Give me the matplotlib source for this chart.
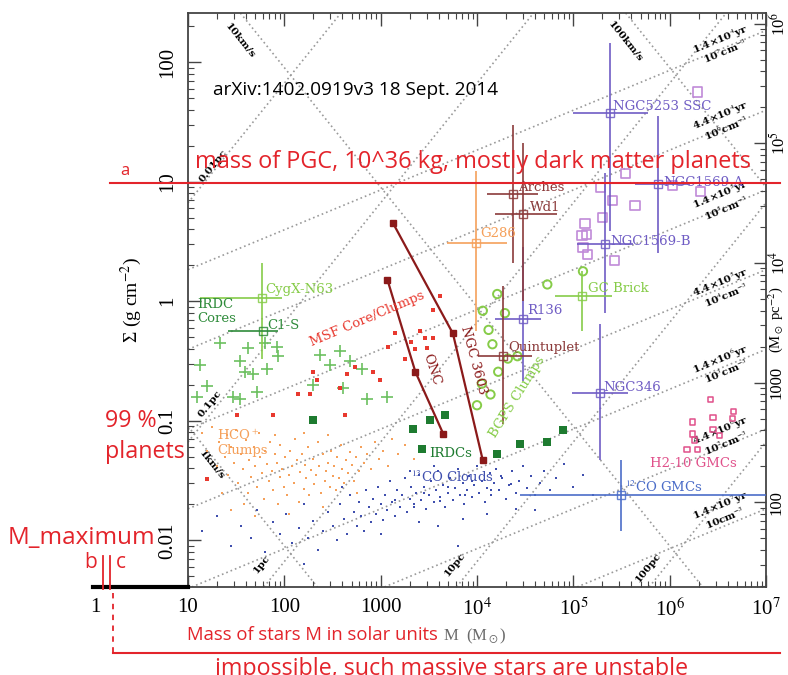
import numpy as np
import matplotlib
matplotlib.use('Agg')
import matplotlib.pyplot as plt
from matplotlib.lines import Line2D
from matplotlib.ticker import FixedLocator, LogLocator, NullFormatter

plt.rcParams['mathtext.fontset'] = 'stix'

# values: log10 M (Msun), log10 Sigma (g cm^-2)
hco_logM = [1.15, 1.20, 1.25, 1.30, 1.32, 1.38, 1.40, 1.42, 1.45, 1.48,
            1.50, 1.52, 1.55, 1.57, 1.60, 1.62, 1.63, 1.65, 1.68, 1.70,
            1.72, 1.74, 1.75, 1.77, 1.79, 1.80, 1.82, 1.84, 1.85, 1.87,
            1.88, 1.90, 1.92, 1.93, 1.95, 1.96, 1.98, 2.00, 2.01, 2.03,
            2.05, 2.06, 2.08, 2.10, 2.11, 2.13, 2.15, 2.16, 2.18, 2.20,
            2.21, 2.23, 2.25, 2.26, 2.28, 2.30, 2.31, 2.33, 2.35, 2.36,
            2.38, 2.40, 2.42, 2.43, 2.45, 2.47, 2.48, 2.50, 2.52, 2.54,
            2.55, 2.57, 2.59, 2.60, 2.62, 2.64, 2.66, 2.68, 2.70, 2.72,
            2.74, 2.77, 2.80, 2.83, 2.86, 2.90, 2.94, 2.98, 3.02, 3.08,
            3.12, 3.18, 3.25, 3.35, 1.45, 1.70, 2.05, 2.40, 1.90, 2.20,
            2.45, 1.35, 1.58, 2.75]
hco_logS = [-1.10, -1.25, -1.05, -1.38, -1.18, -1.30, -1.12, -1.45, -1.22, -1.35,
            -1.08, -1.52, -1.28, -1.40, -1.16, -1.60, -1.33, -1.47, -1.22, -1.38,
            -1.55, -1.10, -1.30, -1.44, -1.65, -1.25, -1.36, -1.50, -1.18, -1.42,
            -1.58, -1.28, -1.35, -1.70, -1.47, -1.20, -1.40, -1.55, -1.30, -1.62,
            -1.45, -1.25, -1.38, -1.52, -1.15, -1.33, -1.68, -1.43, -1.28, -1.57,
            -1.37, -1.48, -1.22, -1.62, -1.41, -1.32, -1.53, -1.45, -1.18, -1.38,
            -1.60, -1.28, -1.50, -1.42, -1.35, -1.55, -1.25, -1.46, -1.38, -1.58,
            -1.30, -1.48, -1.20, -1.40, -1.52, -1.33, -1.44, -1.26, -1.37, -1.50,
            -1.30, -1.42, -1.22, -1.35, -1.28, -1.40, -1.18, -1.32, -1.25, -1.38,
            -1.15, -1.28, -1.20, -1.32, -1.75, -1.80, -1.78, -1.72, -1.12, -1.10,
            -1.12, -1.60, -1.70, -1.60]

co_logM = [1.15, 1.30, 1.45, 1.55, 1.65, 1.72, 1.80, 1.88, 1.95, 2.02,
           2.08, 2.15, 2.20, 2.25, 2.30, 2.35, 2.40, 2.45, 2.50, 2.55,
           2.58, 2.62, 2.65, 2.68, 2.72, 2.75, 2.78, 2.80, 2.83, 2.85,
           2.88, 2.90, 2.92, 2.95, 2.97, 3.00, 3.02, 3.05, 3.07, 3.10,
           3.12, 3.15, 3.17, 3.20, 3.22, 3.25, 3.27, 3.30, 3.32, 3.35,
           3.37, 3.40, 3.42, 3.45, 3.47, 3.50, 3.52, 3.55, 3.57, 3.60,
           3.62, 3.65, 3.67, 3.70, 3.72, 3.75, 3.77, 3.80, 3.82, 3.85,
           3.87, 3.90, 3.92, 3.95, 3.97, 4.00, 4.02, 4.05, 4.08, 4.10,
           4.13, 4.15, 4.18, 4.20, 4.23, 4.26, 4.30, 4.33, 4.36, 4.40,
           4.44, 4.48, 4.52, 4.56, 4.60, 4.65, 4.70, 4.76, 4.82, 4.90,
           5.00, 5.10, 5.20, 3.40, 3.60, 3.85, 2.60, 3.00, 4.10, 4.40,
           2.20, 3.80, 4.60, 3.30, 3.55, 3.15, 3.45, 3.70, 3.95, 4.25,
           3.35, 3.62, 3.88, 4.15, 4.35]
co_logS = [-1.92, -1.80, -2.05, -1.88, -1.98, -1.75, -2.10, -1.85, -1.95, -1.78,
           -2.02, -1.90, -1.70, -1.98, -1.84, -2.08, -1.92, -1.76, -1.88, -2.00,
           -1.70, -1.82, -1.95, -1.62, -1.76, -1.88, -1.68, -1.80, -1.92, -1.58,
           -1.72, -1.85, -1.65, -1.78, -1.55, -1.70, -1.83, -1.62, -1.75, -1.50,
           -1.68, -1.80, -1.58, -1.72, -1.62, -1.48, -1.76, -1.65, -1.55, -1.70,
           -1.60, -1.45, -1.66, -1.55, -1.74, -1.62, -1.50, -1.68, -1.58, -1.42,
           -1.64, -1.54, -1.72, -1.60, -1.48, -1.66, -1.56, -1.40, -1.62, -1.52,
           -1.70, -1.58, -1.46, -1.64, -1.54, -1.38, -1.60, -1.50, -1.68, -1.56,
           -1.44, -1.62, -1.52, -1.40, -1.58, -1.48, -1.65, -1.54, -1.42, -1.60,
           -1.50, -1.38, -1.56, -1.46, -1.62, -1.52, -1.42, -1.58, -1.48, -1.36,
           -1.55, -1.45, -1.62, -1.85, -1.88, -1.82, -1.55, -1.95, -1.78, -1.74,
           -2.20, -2.05, -1.75, -1.42, -1.38, -1.66, -1.60, -1.55, -1.50, -1.46,
           -1.72, -1.67, -1.62, -1.58, -1.53]

core_logM = [1.33, 1.12, 1.62, 1.80, 1.92, 1.93, 1.54, 1.67, 1.59, 1.82, 1.20, 1.47,
             1.72, 1.09, 1.54, 2.37, 2.47, 2.58, 2.68, 2.81, 2.86, 3.07, 2.30, 2.61]
core_logS = [-0.35, -0.53, -0.39, -0.35, -0.38, -0.46, -0.50, -0.61, -0.59, -0.57, -0.71, -0.80,
             -0.76, -0.80, -0.82, -0.45, -0.53, -0.42, -0.50, -0.57, -0.82, -0.80, -0.70, -0.73]

msf_logM = [2.30, 2.34, 2.14, 2.27, 2.58, 2.65, 2.73, 2.92, 3.08, 2.63, 1.88, 1.51,
            1.20, 3.31, 3.46, 3.54, 3.48, 3.36, 3.54, 3.25, 3.41, 2.99, 3.15, 3.62]
msf_logS = [-0.59, -0.66, -0.78, -0.78, -0.73, -0.61, -0.55, -0.59, -0.38, -0.95, -0.95, -0.95,
            -1.49, -0.34, -0.31, -0.31, -0.39, -0.40, -0.07, -0.48, -0.25, -0.66, -0.27, 0.04]

irdc_logM = [2.30, 3.34, 3.51, 3.67, 3.43, 4.21, 4.45, 4.73, 4.89]
irdc_logS = [-0.99, -1.07, -0.99, -0.95, -1.24, -1.28, -1.19, -1.18, -1.08]

bgps_logM = [4.06, 4.21, 4.29, 4.12, 4.16, 4.32, 4.42, 4.22, 4.05, 4.14, 4.00, 4.73, 5.10]
bgps_logS = [-0.08, 0.06, -0.10, -0.24, -0.36, -0.48, -0.46, -0.59, -0.69, -0.78, -0.87, 0.14, 0.25]

h2_logM = [6.42, 6.24, 6.45, 6.66, 6.65, 6.45, 6.24, 6.26, 6.18, 6.29, 6.52]
h2_logS = [-0.82, -1.01, -0.97, -0.92, -0.98, -1.07, -1.11, -1.16, -1.24, -1.24, -1.12]

ssc_logM = [6.29, 5.54, 5.28, 5.41, 5.64, 6.32, 6.03, 5.12, 5.30, 5.14, 5.10, 5.15, 5.43, 5.09]
ssc_logS = [1.75, 1.07, 0.95, 0.84, 0.80, 0.92, 0.97, 0.65, 0.70, 0.56, 0.45, 0.39, 0.34, 0.55]

onc_logM = [3.07, 3.36, 3.65]
onc_logS = [0.18, -0.59, -1.11]
n3603_logM = [3.13, 3.75, 4.06]
n3603_logS = [0.65, -0.27, -1.33]

obj_names = ["NGC5253 SSC", "NGC1569-A", "NGC1569-B", "R136", "NGC346", "Arches", "Wd1",
             "Quintuplet", "G286", "GC Brick", "CygX-N63", "C1-S", "$^{12}$CO GMCs"]
obj_logM = [5.38, 5.88, 5.33, 4.48, 5.28, 4.37, 4.48, 4.27, 3.99, 5.09, 1.77, 1.78, 5.49]
obj_logM_lo = [5.00, 5.64, 5.04, 4.19, 4.99, 4.10, 4.19, 4.01, 3.69, 4.81, 1.12, 1.42, 4.45]
obj_logM_hi = [5.77, 6.21, 5.62, 4.66, 5.57, 4.63, 4.83, 4.57, 4.31, 5.40, 1.98, 1.93, 7.00]
obj_logS = [1.57, 0.98, 0.48, -0.15, -0.77, 0.90, 0.73, -0.46, 0.49, 0.04, 0.03, -0.25, -1.62]
obj_logS_lo = [0.59, 0.40, -0.10, -0.67, -1.33, 0.32, 0.00, -1.03, -0.25, -0.25, -0.48, -0.25, -1.92]
obj_logS_hi = [2.16, 1.55, 1.07, 0.45, -0.19, 1.47, 1.32, 0.13, 1.09, 0.25, 0.32, -0.25, -1.33]

x_ticks = [1e1, 1e2, 1e3, 1e4, 1e5, 1e6, 1e7]
x_labels = ['10', '100', '1000', '10$^4$', '10$^5$', '10$^6$', '10$^7$']
y_ticks = [0.01, 0.1, 1, 10, 100]
y_labels = ['0.01', '0.1', '1', '10', '100']
r_ticks = [1e2, 1e3, 1e4, 1e5, 1e6]
r_labels = ['100', '1000', '10$^4$', '10$^5$', '10$^6$']

# colours
RED = '#e3242b'
PURPLE = '#6f5cc4'
BROWN = '#8b3a3a'
DRED = '#8b1a1a'
ORANGE = '#f5a05a'
LGREEN = '#86cc48'
DGREEN = '#2e8b3a'
BLUE = '#3f4fae'
BLUE2 = '#4a6cc8'
PINK = '#e0508a'
obj_colors = [PURPLE, PURPLE, PURPLE, PURPLE, PURPLE, BROWN, BROWN, BROWN,
              ORANGE, LGREEN, LGREEN, DGREEN, BLUE2]

W, H = 788, 675
def fx(x):
    return x / W
def fy(y):
    return 1 - y / H

fig = plt.figure(figsize=(W / 100, H / 100), dpi=100)
ax = fig.add_axes([fx(188), fy(587), 578 / W, 574 / H])
ax.set_xscale('log')
ax.set_yscale('log')
ax.set_xlim(10, 1e7)
ax.set_ylim(10 ** -2.39, 10 ** 2.41)
xpd = 578 / 6
ypd = 574 / 4.8
def ang(slope):
    return np.degrees(np.arctan(slope * ypd / xpd))

# guide lines: constant radius, escape speed and density
G, MSUN, PC, MH = 6.674e-8, 1.989e33, 3.086e18, 1.674e-24
def sig_R(M, R):
    return M * MSUN / (np.pi * (R * PC) ** 2)
def sig_v(M, v):
    return (v * 1e5) ** 4 / (4 * np.pi * G ** 2 * M * MSUN)
def sig_n(M, n):
    rho = 1.4 * MH * n
    return 4 / 3 * rho * (3 * M * MSUN / (4 * np.pi * rho)) ** (1 / 3)

guide = dict(color='#9a9a9a', ls=(0, (1, 1.8)), lw=1.2, zorder=1)
for R in [0.01, 0.1, 1, 10, 100]:
    ax.axline((1, sig_R(1, R)), (1e8, sig_R(1e8, R)), **guide)
for v in [1, 10, 100]:
    ax.axline((1, sig_v(1, v)), (1e8, sig_v(1e8, v)), **guide)
for n in [10, 1e2, 1e3, 1e4, 1e5, 1e6, 1e7]:
    ax.axline((1, sig_n(1, n)), (1e8, sig_n(1e8, n)), **guide)

gl = dict(fontsize=7.5, family='DejaVu Serif', weight='bold', ha='center', va='center', zorder=2)
for s, lm, ls in [("0.01pc", 1.26, 1.13), ("0.1pc", 1.23, -0.86), ("1pc", 1.77, -2.20),
                  ("10pc", 3.77, -2.20), ("100pc", 5.78, -2.23)]:
    ax.text(10 ** lm, 10 ** ls, s, rotation=ang(1), **gl)
for s, lm, ls in [("1km/s", 1.25, -1.37), ("10km/s", 1.54, 2.18), ("100km/s", 5.54, 2.17)]:
    ax.text(10 ** lm, 10 ** ls, s, rotation=ang(-1), **gl)
n_text = ["1.4\u00d710$^4$yr\n10$^7$cm$^{-3}$", "4.4\u00d710$^4$yr\n10$^6$cm$^{-3}$",
          "1.4\u00d710$^5$yr\n10$^5$cm$^{-3}$", "4.4\u00d710$^5$yr\n10$^4$cm$^{-3}$",
          "1.4\u00d710$^6$yr\n10$^3$cm$^{-3}$", "4.4\u00d710$^6$yr\n10$^2$cm$^{-3}$",
          "1.4\u00d710$^7$yr\n10cm$^{-3}$"]
for s, ls in zip(n_text, [2.14, 1.50, 0.84, 0.11, -0.53, -1.13, -1.76]):
    ax.text(10 ** 6.55, 10 ** ls, s, rotation=ang(1 / 3), linespacing=0.9, **gl)

# data
def p(a):
    return 10 ** np.array(a)

ax.scatter(p(hco_logM), p(hco_logS), s=3.5, marker='s', c=ORANGE, linewidths=0, zorder=3)
ax.scatter(p(co_logM), p(co_logS), s=3.5, marker='s', c=BLUE, linewidths=0, zorder=3)
ax.scatter(p(core_logM), p(core_logS), s=80, marker='+', c='#6cc060', linewidths=1.2, zorder=3)
ax.scatter(p(msf_logM), p(msf_logS), s=12, marker='s', c='#e8392f', linewidths=0, zorder=4)
ax.scatter(p(irdc_logM), p(irdc_logS), s=36, marker='s', c='#1e7b30', linewidths=0, zorder=4)
ax.scatter(p(bgps_logM), p(bgps_logS), s=36, marker='o', facecolors='none',
           edgecolors=LGREEN, linewidths=1.4, zorder=4)
ax.scatter(p(h2_logM), p(h2_logS), s=14, marker='s', facecolors='none',
           edgecolors=PINK, linewidths=1.1, zorder=4)
ax.scatter(p(ssc_logM), p(ssc_logS), s=45, marker='s', facecolors='none',
           edgecolors='#c08ad8', linewidths=1.2, zorder=4)
ax.plot(p(onc_logM), p(onc_logS), color=DRED, lw=1.6, marker='s', ms=5, zorder=5)
ax.plot(p(n3603_logM), p(n3603_logS), color=DRED, lw=1.6, marker='s', ms=4, zorder=5)

for i in range(len(obj_names)):
    m, s = 10 ** obj_logM[i], 10 ** obj_logS[i]
    xe = [[m - 10 ** obj_logM_lo[i]], [10 ** obj_logM_hi[i] - m]]
    ye = [[s - 10 ** obj_logS_lo[i]], [10 ** obj_logS_hi[i] - s]]
    ax.errorbar([m], [s], xerr=xe, yerr=ye, fmt='s', ms=6, mfc='none', mec=obj_colors[i],
                ecolor=obj_colors[i], elinewidth=1.4, capsize=0, alpha=0.85, zorder=5)

# labels
lab = dict(family='DejaVu Serif', fontsize=9.5, va='center', zorder=6)
for s, lm, ls, c in [("IRDC\nCores", 1.10, -0.09, DGREEN), ("CygX-N63", 1.80, 0.10, LGREEN),
                     ("C1-S", 1.82, -0.20, DGREEN), ("HCO$^+$\nClumps", 1.30, -1.18, ORANGE),
                     ("IRDCs", 3.50, -1.27, '#1e7b30'), ("$^{13}$CO Clouds", 3.31, -1.47, BLUE),
                     ("Quintuplet", 4.32, -0.39, BROWN), ("R136", 4.52, -0.08, PURPLE),
                     ("GC Brick", 5.15, 0.11, LGREEN), ("NGC1569-B", 5.38, 0.50, PURPLE),
                     ("NGC5253 SSC", 5.41, 1.63, PURPLE), ("NGC1569-A", 5.93, 0.99, PURPLE),
                     ("Arches", 4.43, 0.95, BROWN), ("Wd1", 4.55, 0.78, BROWN),
                     ("G286", 4.03, 0.57, ORANGE), ("NGC346", 5.31, -0.72, PURPLE),
                     ("H2-10 GMCs", 5.80, -1.36, PINK), ("$^{12}$CO GMCs", 5.54, -1.56, BLUE2)]:
    ax.text(10 ** lm, 10 ** ls, s, color=c, ha='left', linespacing=1.1, **lab)
for s, lm, ls, c, r in [("MSF Core/Clumps", 2.86, -0.15, '#e8392f', 23),
                        ("ONC", 3.53, -0.57, DRED, -72), ("NGC 3603", 3.96, -0.49, DRED, -75),
                        ("BGPS Clumps", 4.42, -0.80, LGREEN, 58)]:
    ax.text(10 ** lm, 10 ** ls, s, color=c, ha='center', rotation=r, **lab)

# axes styling
for sp in ax.spines.values():
    sp.set_color('#444444')
    sp.set_linewidth(1.3)
ax.xaxis.set_major_locator(FixedLocator(x_ticks))
ax.xaxis.set_minor_locator(LogLocator(base=10, subs=np.arange(2, 10)))
ax.xaxis.set_minor_formatter(NullFormatter())
ax.set_xticklabels(x_labels, fontsize=15, family='Liberation Serif')
ax.yaxis.set_major_locator(FixedLocator(y_ticks))
ax.yaxis.set_minor_locator(LogLocator(base=10, subs=np.arange(2, 10)))
ax.yaxis.set_minor_formatter(NullFormatter())
ax.set_yticklabels(y_labels, fontsize=15, family='Liberation Serif', rotation=90, va='center')
ax.tick_params(which='both', direction='in', top=True, right=False, color='#444444')
ax.tick_params(which='major', length=9, width=1, pad=8)
ax.tick_params(which='minor', length=4.5, width=0.8)
ax.set_ylabel('\u03a3 (g cm$^{-2}$)', fontsize=14, family='Liberation Serif', labelpad=10)

ax2 = ax.twinx()
ax2.set_yscale('log')
ax2.set_ylim(10 ** -2.39 * 4790, 10 ** 2.41 * 4790)
ax2.yaxis.set_major_locator(FixedLocator(r_ticks))
ax2.yaxis.set_minor_locator(LogLocator(base=10, subs=np.arange(2, 10)))
ax2.yaxis.set_minor_formatter(NullFormatter())
ax2.set_yticklabels(r_labels, fontsize=12, family='Liberation Serif', rotation=90, va='center')
ax2.tick_params(which='both', direction='in', color='#444444')
ax2.tick_params(which='major', length=9, width=1, pad=2)
ax2.tick_params(which='minor', length=4.5, width=0.8)
for sp in ax2.spines.values():
    sp.set_visible(False)
fig.text(fx(776), fy(320), '(M$_\\odot$ pc$^{-2}$)', fontsize=10.5, family='Liberation Serif',
         rotation=90, ha='center', va='center')

# annotations drawn on top of the scanned chart
fig.add_artist(Line2D([fx(110), fx(780)], [fy(183), fy(183)], color=RED, lw=1.5))
fig.add_artist(Line2D([fx(93), fx(188)], [fy(587), fy(587)], color='black', lw=3))
fig.add_artist(Line2D([fx(103), fx(103)], [fy(556), fy(589)], color=RED, lw=1.3))
fig.add_artist(Line2D([fx(110), fx(110)], [fy(556), fy(589)], color=RED, lw=1.3))
fig.add_artist(Line2D([fx(113), fx(113)], [fy(593), fy(653)], color=RED, lw=1.3, ls=(0, (3, 3))))
fig.add_artist(Line2D([fx(113), fx(780)], [fy(653), fy(653)], color=RED, lw=1.5))

renderer = fig.canvas.get_renderer()
def fit(t, width):
    w = t.get_window_extent(renderer).width
    t.set_fontsize(t.get_fontsize() * width / w)

fa = dict(family='Open Sans', va='center')
fit(fig.text(fx(195), fy(162), 'mass of PGC, 10^36 kg, mostly dark matter planets', color=RED, fontsize=16, **fa), 557)
fit(fig.text(fx(213), fy(90), 'arXiv:1402.0919v3 18 Sept. 2014', color='black', fontsize=13, **fa), 285)
fit(fig.text(fx(105), fy(421), '99 %', color=RED, fontsize=16, **fa), 52)
fit(fig.text(fx(105), fy(452), 'planets', color=RED, fontsize=16, **fa), 80)
fit(fig.text(fx(8), fy(538), 'M_maximum', color=RED, fontsize=16, **fa), 147)
fig.text(fx(91), fy(563), 'b', color=RED, fontsize=15, ha='center', **fa)
fig.text(fx(121), fy(563), 'c', color=RED, fontsize=15, ha='center', **fa)
fig.text(fx(125), fy(171), 'a', color=RED, fontsize=12, ha='center', **fa)
fig.text(fx(95), fy(607), '1', color='black', fontsize=15, family='Liberation Serif', ha='center', va='center')
fit(fig.text(fx(187), fy(635), 'Mass of stars M in solar units', color=RED, fontsize=12, **fa), 250)
fig.text(fx(443), fy(636), 'M  (M$_\\odot$)', color='#6a6a6a', fontsize=12, family='Liberation Serif', va='center')
fit(fig.text(fx(215), fy(657), 'impossible, such massive stars are unstable', color=RED, fontsize=16,
             family='Open Sans', va='top'), 473)

fig.savefig('out.png', dpi=100)
